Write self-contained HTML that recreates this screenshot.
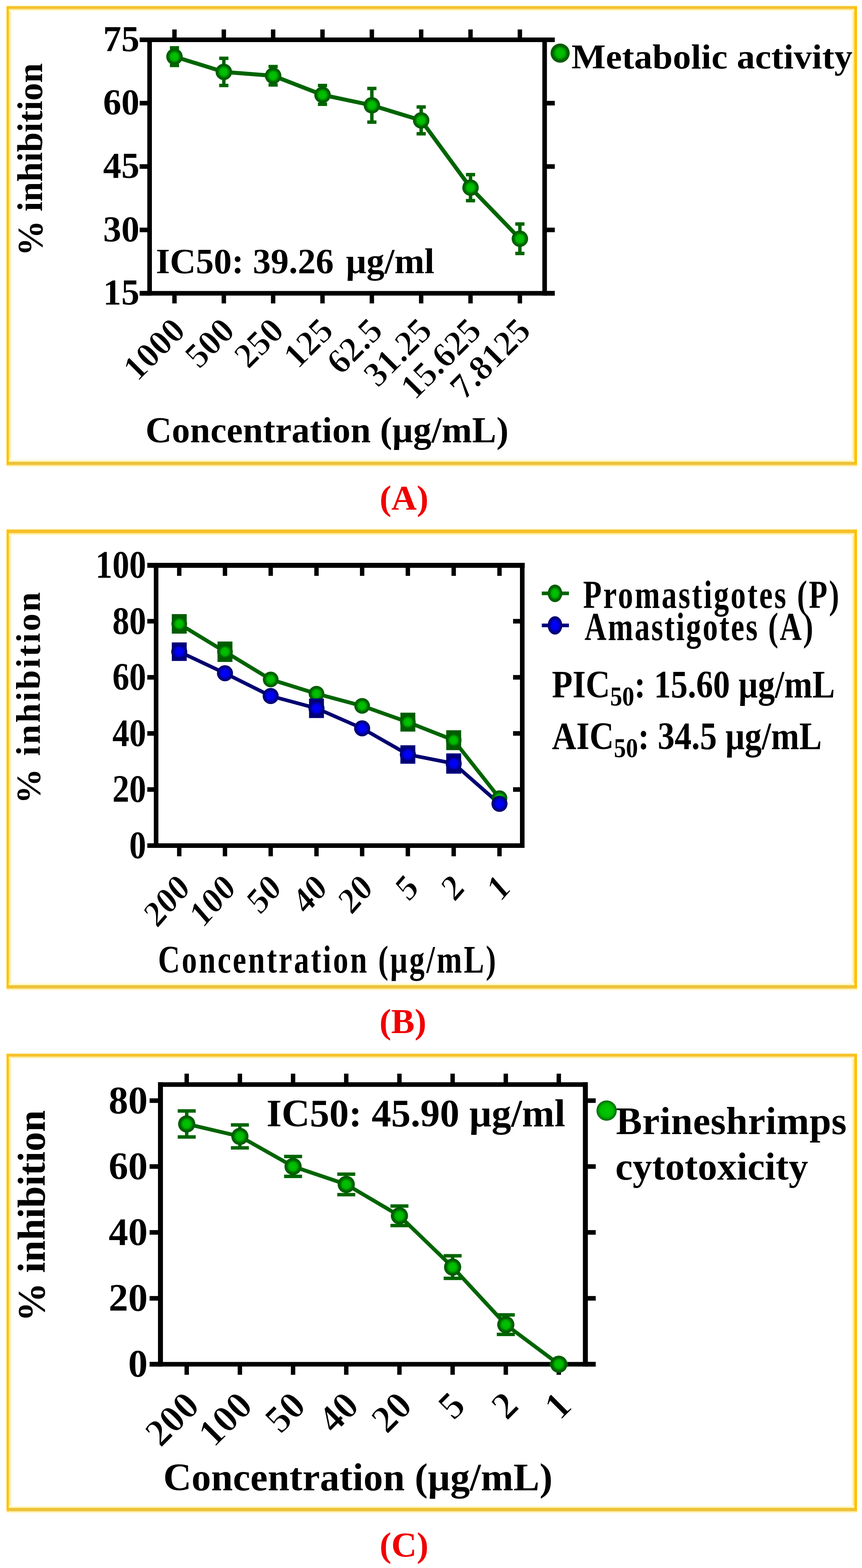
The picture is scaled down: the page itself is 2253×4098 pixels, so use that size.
<!DOCTYPE html>
<html><head><meta charset="utf-8"><title>Figure</title>
<style>
html,body{margin:0;padding:0;background:#fff;}
body{width:2253px;height:4098px;overflow:hidden;}
svg{display:block;}
text{font-family:'Liberation Serif',serif;font-weight:bold;}
</style></head>
<body>
<svg width="2253" height="4098" viewBox="0 0 2253 4098">
<defs>
<radialGradient id="gg"><stop offset="0" stop-color="#00c400"/><stop offset="0.45" stop-color="#00b800"/><stop offset="0.62" stop-color="#008a00"/><stop offset="0.75" stop-color="#006400"/><stop offset="0.93" stop-color="#005a00"/><stop offset="1" stop-color="#005c00"/></radialGradient>
<radialGradient id="gl"><stop offset="0" stop-color="#00c800"/><stop offset="0.6" stop-color="#00bb00"/><stop offset="0.8" stop-color="#009800"/><stop offset="0.92" stop-color="#007000"/><stop offset="1" stop-color="#006a10"/></radialGradient>
<radialGradient id="gb"><stop offset="0" stop-color="#0000ff"/><stop offset="0.45" stop-color="#0000f0"/><stop offset="0.65" stop-color="#0000b0"/><stop offset="0.8" stop-color="#000080"/><stop offset="0.93" stop-color="#00006e"/><stop offset="1" stop-color="#000070"/></radialGradient>
</defs>
<rect width="2253" height="4098" fill="#fff"/>
<rect x="23" y="16" width="4" height="1199" fill="#fde79a"/>
<rect x="27" y="16" width="4" height="1199" fill="#fffad8"/>
<rect x="2229" y="16" width="4" height="1199" fill="#fde79a"/>
<rect x="2225" y="16" width="4" height="1199" fill="#fffad8"/>
<rect x="17" y="23" width="2223" height="3" fill="#fee58e"/>
<rect x="17" y="26" width="2223" height="3" fill="#fffad6"/>
<rect x="17" y="13" width="2223" height="3" fill="#fffbdc"/>
<rect x="17" y="1204" width="2223" height="3" fill="#fff3b0"/>
<rect x="17" y="1201" width="2223" height="3" fill="#fffbe0"/>
<rect x="17" y="1215" width="2223" height="3" fill="#fee590"/>
<rect x="17" y="1218" width="2223" height="3" fill="#fffbdc"/>
<rect x="17" y="16" width="2223" height="7" fill="#f7c12c"/>
<rect x="17" y="1207" width="2223" height="8" fill="#ebc23a"/>
<rect x="17" y="16" width="6" height="1199" fill="#fec200"/>
<rect x="2233" y="16" width="7" height="1199" fill="#fec000"/>
<rect x="23" y="1384" width="4" height="1199" fill="#fde79a"/>
<rect x="27" y="1384" width="4" height="1199" fill="#fffad8"/>
<rect x="2229" y="1384" width="4" height="1199" fill="#fde79a"/>
<rect x="2225" y="1384" width="4" height="1199" fill="#fffad8"/>
<rect x="17" y="1393" width="2223" height="3" fill="#fee58e"/>
<rect x="17" y="1396" width="2223" height="3" fill="#fffad6"/>
<rect x="17" y="1381" width="2223" height="3" fill="#fffbdc"/>
<rect x="17" y="2572" width="2223" height="3" fill="#fff3b0"/>
<rect x="17" y="2569" width="2223" height="3" fill="#fffbe0"/>
<rect x="17" y="2583" width="2223" height="3" fill="#fee590"/>
<rect x="17" y="2586" width="2223" height="3" fill="#fffbdc"/>
<rect x="17" y="1384" width="2223" height="9" fill="#f7c12c"/>
<rect x="17" y="2575" width="2223" height="8" fill="#ebc23a"/>
<rect x="17" y="1384" width="6" height="1199" fill="#fec200"/>
<rect x="2233" y="1384" width="7" height="1199" fill="#fec000"/>
<rect x="23" y="2754" width="4" height="1195" fill="#fde79a"/>
<rect x="27" y="2754" width="4" height="1195" fill="#fffad8"/>
<rect x="2229" y="2754" width="4" height="1195" fill="#fde79a"/>
<rect x="2225" y="2754" width="4" height="1195" fill="#fffad8"/>
<rect x="17" y="2761" width="2223" height="3" fill="#fee58e"/>
<rect x="17" y="2764" width="2223" height="3" fill="#fffad6"/>
<rect x="17" y="2751" width="2223" height="3" fill="#fffbdc"/>
<rect x="17" y="3938" width="2223" height="3" fill="#fff3b0"/>
<rect x="17" y="3935" width="2223" height="3" fill="#fffbe0"/>
<rect x="17" y="3949" width="2223" height="3" fill="#fee590"/>
<rect x="17" y="3952" width="2223" height="3" fill="#fffbdc"/>
<rect x="17" y="2754" width="2223" height="7" fill="#f7c12c"/>
<rect x="17" y="3941" width="2223" height="8" fill="#ebc23a"/>
<rect x="17" y="2754" width="6" height="1195" fill="#fec200"/>
<rect x="2233" y="2754" width="7" height="1195" fill="#fec000"/>
<text transform="translate(1056.0,1332.0)" font-size="92" text-anchor="middle" fill="#f00000" >(A)</text>
<text transform="translate(1053.0,2700.0)" font-size="92" text-anchor="middle" fill="#f00000" >(B)</text>
<text transform="translate(1056.0,4068.0)" font-size="92" text-anchor="middle" fill="#f00000" >(C)</text>
<line x1="365.0" y1="104.0" x2="1450.0" y2="104.0" stroke="#000" stroke-width="12" stroke-linecap="butt"/>
<line x1="365.0" y1="766.5" x2="1450.0" y2="766.5" stroke="#000" stroke-width="12" stroke-linecap="butt"/>
<line x1="391.0" y1="98.0" x2="391.0" y2="772.5" stroke="#000" stroke-width="12" stroke-linecap="butt"/>
<line x1="1423.5" y1="98.0" x2="1423.5" y2="772.5" stroke="#000" stroke-width="12" stroke-linecap="butt"/>
<line x1="365.0" y1="104.0" x2="391.0" y2="104.0" stroke="#000" stroke-width="12" stroke-linecap="butt"/>
<line x1="1423.5" y1="104.0" x2="1450.0" y2="104.0" stroke="#000" stroke-width="12" stroke-linecap="butt"/>
<text transform="translate(364.5,133.6)" font-size="95" text-anchor="end" fill="#000" >75</text>
<line x1="365.0" y1="269.6" x2="391.0" y2="269.6" stroke="#000" stroke-width="12" stroke-linecap="butt"/>
<line x1="1423.5" y1="269.6" x2="1450.0" y2="269.6" stroke="#000" stroke-width="12" stroke-linecap="butt"/>
<text transform="translate(364.5,299.2)" font-size="95" text-anchor="end" fill="#000" >60</text>
<line x1="365.0" y1="435.2" x2="391.0" y2="435.2" stroke="#000" stroke-width="12" stroke-linecap="butt"/>
<line x1="1423.5" y1="435.2" x2="1450.0" y2="435.2" stroke="#000" stroke-width="12" stroke-linecap="butt"/>
<text transform="translate(364.5,464.9)" font-size="95" text-anchor="end" fill="#000" >45</text>
<line x1="365.0" y1="600.9" x2="391.0" y2="600.9" stroke="#000" stroke-width="12" stroke-linecap="butt"/>
<line x1="1423.5" y1="600.9" x2="1450.0" y2="600.9" stroke="#000" stroke-width="12" stroke-linecap="butt"/>
<text transform="translate(364.5,630.5)" font-size="95" text-anchor="end" fill="#000" >30</text>
<line x1="365.0" y1="766.5" x2="391.0" y2="766.5" stroke="#000" stroke-width="12" stroke-linecap="butt"/>
<line x1="1423.5" y1="766.5" x2="1450.0" y2="766.5" stroke="#000" stroke-width="12" stroke-linecap="butt"/>
<text transform="translate(364.5,796.1)" font-size="95" text-anchor="end" fill="#000" >15</text>
<line x1="456.0" y1="77.0" x2="456.0" y2="104.0" stroke="#000" stroke-width="11.5" stroke-linecap="butt"/>
<line x1="456.0" y1="766.5" x2="456.0" y2="793.0" stroke="#000" stroke-width="11.5" stroke-linecap="butt"/>
<line x1="585.0" y1="77.0" x2="585.0" y2="104.0" stroke="#000" stroke-width="11.5" stroke-linecap="butt"/>
<line x1="585.0" y1="766.5" x2="585.0" y2="793.0" stroke="#000" stroke-width="11.5" stroke-linecap="butt"/>
<line x1="713.9" y1="77.0" x2="713.9" y2="104.0" stroke="#000" stroke-width="11.5" stroke-linecap="butt"/>
<line x1="713.9" y1="766.5" x2="713.9" y2="793.0" stroke="#000" stroke-width="11.5" stroke-linecap="butt"/>
<line x1="842.9" y1="77.0" x2="842.9" y2="104.0" stroke="#000" stroke-width="11.5" stroke-linecap="butt"/>
<line x1="842.9" y1="766.5" x2="842.9" y2="793.0" stroke="#000" stroke-width="11.5" stroke-linecap="butt"/>
<line x1="971.9" y1="77.0" x2="971.9" y2="104.0" stroke="#000" stroke-width="11.5" stroke-linecap="butt"/>
<line x1="971.9" y1="766.5" x2="971.9" y2="793.0" stroke="#000" stroke-width="11.5" stroke-linecap="butt"/>
<line x1="1100.8" y1="77.0" x2="1100.8" y2="104.0" stroke="#000" stroke-width="11.5" stroke-linecap="butt"/>
<line x1="1100.8" y1="766.5" x2="1100.8" y2="793.0" stroke="#000" stroke-width="11.5" stroke-linecap="butt"/>
<line x1="1229.8" y1="77.0" x2="1229.8" y2="104.0" stroke="#000" stroke-width="11.5" stroke-linecap="butt"/>
<line x1="1229.8" y1="766.5" x2="1229.8" y2="793.0" stroke="#000" stroke-width="11.5" stroke-linecap="butt"/>
<line x1="1358.8" y1="77.0" x2="1358.8" y2="104.0" stroke="#000" stroke-width="11.5" stroke-linecap="butt"/>
<line x1="1358.8" y1="766.5" x2="1358.8" y2="793.0" stroke="#000" stroke-width="11.5" stroke-linecap="butt"/>
<polyline points="456.0,148.0 585.0,187.9 713.9,198.0 842.9,248.0 971.9,275.2 1100.8,314.6 1229.8,490.4 1358.8,623.9" fill="none" stroke="#006400" stroke-width="10.5" stroke-linejoin="round"/>
<line x1="456.0" y1="125.0" x2="456.0" y2="171.0" stroke="#006400" stroke-width="9" stroke-linecap="butt"/>
<line x1="444.0" y1="125.0" x2="468.0" y2="125.0" stroke="#006400" stroke-width="9" stroke-linecap="butt"/>
<line x1="444.0" y1="171.0" x2="468.0" y2="171.0" stroke="#006400" stroke-width="9" stroke-linecap="butt"/>
<line x1="585.0" y1="152.4" x2="585.0" y2="223.4" stroke="#006400" stroke-width="9" stroke-linecap="butt"/>
<line x1="573.0" y1="152.4" x2="597.0" y2="152.4" stroke="#006400" stroke-width="9" stroke-linecap="butt"/>
<line x1="573.0" y1="223.4" x2="597.0" y2="223.4" stroke="#006400" stroke-width="9" stroke-linecap="butt"/>
<line x1="713.9" y1="174.0" x2="713.9" y2="222.0" stroke="#006400" stroke-width="9" stroke-linecap="butt"/>
<line x1="701.9" y1="174.0" x2="725.9" y2="174.0" stroke="#006400" stroke-width="9" stroke-linecap="butt"/>
<line x1="701.9" y1="222.0" x2="725.9" y2="222.0" stroke="#006400" stroke-width="9" stroke-linecap="butt"/>
<line x1="842.9" y1="223.5" x2="842.9" y2="272.5" stroke="#006400" stroke-width="9" stroke-linecap="butt"/>
<line x1="830.9" y1="223.5" x2="854.9" y2="223.5" stroke="#006400" stroke-width="9" stroke-linecap="butt"/>
<line x1="830.9" y1="272.5" x2="854.9" y2="272.5" stroke="#006400" stroke-width="9" stroke-linecap="butt"/>
<line x1="971.9" y1="231.2" x2="971.9" y2="319.2" stroke="#006400" stroke-width="9" stroke-linecap="butt"/>
<line x1="959.9" y1="231.2" x2="983.9" y2="231.2" stroke="#006400" stroke-width="9" stroke-linecap="butt"/>
<line x1="959.9" y1="319.2" x2="983.9" y2="319.2" stroke="#006400" stroke-width="9" stroke-linecap="butt"/>
<line x1="1100.8" y1="279.6" x2="1100.8" y2="349.6" stroke="#006400" stroke-width="9" stroke-linecap="butt"/>
<line x1="1088.8" y1="279.6" x2="1112.8" y2="279.6" stroke="#006400" stroke-width="9" stroke-linecap="butt"/>
<line x1="1088.8" y1="349.6" x2="1112.8" y2="349.6" stroke="#006400" stroke-width="9" stroke-linecap="butt"/>
<line x1="1229.8" y1="456.4" x2="1229.8" y2="524.4" stroke="#006400" stroke-width="9" stroke-linecap="butt"/>
<line x1="1217.8" y1="456.4" x2="1241.8" y2="456.4" stroke="#006400" stroke-width="9" stroke-linecap="butt"/>
<line x1="1217.8" y1="524.4" x2="1241.8" y2="524.4" stroke="#006400" stroke-width="9" stroke-linecap="butt"/>
<line x1="1358.8" y1="585.4" x2="1358.8" y2="662.4" stroke="#006400" stroke-width="9" stroke-linecap="butt"/>
<line x1="1346.8" y1="585.4" x2="1370.8" y2="585.4" stroke="#006400" stroke-width="9" stroke-linecap="butt"/>
<line x1="1346.8" y1="662.4" x2="1370.8" y2="662.4" stroke="#006400" stroke-width="9" stroke-linecap="butt"/>
<circle cx="456.0" cy="148.0" r="21.5" fill="url(#gg)"/>
<circle cx="585.0" cy="187.9" r="21.5" fill="url(#gg)"/>
<circle cx="713.9" cy="198.0" r="21.5" fill="url(#gg)"/>
<circle cx="842.9" cy="248.0" r="21.5" fill="url(#gg)"/>
<circle cx="971.9" cy="275.2" r="21.5" fill="url(#gg)"/>
<circle cx="1100.8" cy="314.6" r="21.5" fill="url(#gg)"/>
<circle cx="1229.8" cy="490.4" r="21.5" fill="url(#gg)"/>
<circle cx="1358.8" cy="623.9" r="21.5" fill="url(#gg)"/>
<text transform="translate(489.0,869.0) rotate(-45)" font-size="92" text-anchor="end" fill="#000" stroke="#fff" stroke-width="1.6">1000</text>
<text transform="translate(618.0,869.0) rotate(-45)" font-size="92" text-anchor="end" fill="#000" stroke="#fff" stroke-width="1.6">500</text>
<text transform="translate(746.9,869.0) rotate(-45)" font-size="92" text-anchor="end" fill="#000" stroke="#fff" stroke-width="1.6">250</text>
<text transform="translate(875.9,869.0) rotate(-45)" font-size="92" text-anchor="end" fill="#000" stroke="#fff" stroke-width="1.6">125</text>
<text transform="translate(1004.9,869.0) rotate(-45)" font-size="92" text-anchor="end" fill="#000" stroke="#fff" stroke-width="1.6">62.5</text>
<text transform="translate(1133.8,869.0) rotate(-45)" font-size="92" text-anchor="end" fill="#000" stroke="#fff" stroke-width="1.6">31.25</text>
<text transform="translate(1262.8,869.0) rotate(-45)" font-size="92" text-anchor="end" fill="#000" stroke="#fff" stroke-width="1.6">15.625</text>
<text transform="translate(1391.8,869.0) rotate(-45)" font-size="92" text-anchor="end" fill="#000" stroke="#fff" stroke-width="1.6">7.8125</text>
<text transform="translate(407.4,714.0)" font-size="94" text-anchor="start" fill="#000" >IC50: 39.26 <tspan dx="8">µg/ml</tspan></text>
<circle cx="1464.0" cy="138.8" r="25.0" fill="url(#gg)"/>
<text transform="translate(1493.4,179.4) scale(1.0,0.96)" font-size="95" text-anchor="start" fill="#000" letter-spacing="0.25">Metabolic activity</text>
<text transform="translate(380.2,1155.8)" font-size="95" text-anchor="start" fill="#000" letter-spacing="0.25">Concentration (µg/mL)</text>
<text transform="translate(110.0,417.0) rotate(-90)" font-size="93" text-anchor="middle" fill="#000" >% inhibition</text>
<line x1="385.0" y1="1477.5" x2="1371.5" y2="1477.5" stroke="#000" stroke-width="13" stroke-linecap="butt"/>
<line x1="385.0" y1="2210.0" x2="1371.0" y2="2210.0" stroke="#000" stroke-width="12" stroke-linecap="butt"/>
<line x1="408.0" y1="1471.0" x2="408.0" y2="2216.0" stroke="#000" stroke-width="12" stroke-linecap="butt"/>
<line x1="1365.0" y1="1471.0" x2="1365.0" y2="2216.0" stroke="#000" stroke-width="12" stroke-linecap="butt"/>
<line x1="385.0" y1="1477.0" x2="408.0" y2="1477.0" stroke="#000" stroke-width="12" stroke-linecap="butt"/>
<line x1="1341.0" y1="1477.0" x2="1365.0" y2="1477.0" stroke="#000" stroke-width="12" stroke-linecap="butt"/>
<text transform="translate(382.0,1510.0) scale(0.875,1.0)" font-size="101" text-anchor="end" fill="#000" >100</text>
<line x1="385.0" y1="1623.6" x2="408.0" y2="1623.6" stroke="#000" stroke-width="12" stroke-linecap="butt"/>
<line x1="1341.0" y1="1623.6" x2="1365.0" y2="1623.6" stroke="#000" stroke-width="12" stroke-linecap="butt"/>
<text transform="translate(382.0,1656.6) scale(0.875,1.0)" font-size="101" text-anchor="end" fill="#000" >80</text>
<line x1="385.0" y1="1770.2" x2="408.0" y2="1770.2" stroke="#000" stroke-width="12" stroke-linecap="butt"/>
<line x1="1341.0" y1="1770.2" x2="1365.0" y2="1770.2" stroke="#000" stroke-width="12" stroke-linecap="butt"/>
<text transform="translate(382.0,1803.2) scale(0.875,1.0)" font-size="101" text-anchor="end" fill="#000" >60</text>
<line x1="385.0" y1="1916.8" x2="408.0" y2="1916.8" stroke="#000" stroke-width="12" stroke-linecap="butt"/>
<line x1="1341.0" y1="1916.8" x2="1365.0" y2="1916.8" stroke="#000" stroke-width="12" stroke-linecap="butt"/>
<text transform="translate(382.0,1949.8) scale(0.875,1.0)" font-size="101" text-anchor="end" fill="#000" >40</text>
<line x1="385.0" y1="2063.4" x2="408.0" y2="2063.4" stroke="#000" stroke-width="12" stroke-linecap="butt"/>
<line x1="1341.0" y1="2063.4" x2="1365.0" y2="2063.4" stroke="#000" stroke-width="12" stroke-linecap="butt"/>
<text transform="translate(382.0,2096.4) scale(0.875,1.0)" font-size="101" text-anchor="end" fill="#000" >20</text>
<line x1="385.0" y1="2210.0" x2="408.0" y2="2210.0" stroke="#000" stroke-width="12" stroke-linecap="butt"/>
<line x1="1341.0" y1="2210.0" x2="1365.0" y2="2210.0" stroke="#000" stroke-width="12" stroke-linecap="butt"/>
<text transform="translate(382.0,2243.0) scale(0.875,1.0)" font-size="101" text-anchor="end" fill="#000" >0</text>
<line x1="468.5" y1="1477.0" x2="468.5" y2="1505.0" stroke="#000" stroke-width="11.5" stroke-linecap="butt"/>
<line x1="468.5" y1="2210.0" x2="468.5" y2="2238.0" stroke="#000" stroke-width="11.5" stroke-linecap="butt"/>
<line x1="588.0" y1="1477.0" x2="588.0" y2="1505.0" stroke="#000" stroke-width="11.5" stroke-linecap="butt"/>
<line x1="588.0" y1="2210.0" x2="588.0" y2="2238.0" stroke="#000" stroke-width="11.5" stroke-linecap="butt"/>
<line x1="707.5" y1="1477.0" x2="707.5" y2="1505.0" stroke="#000" stroke-width="11.5" stroke-linecap="butt"/>
<line x1="707.5" y1="2210.0" x2="707.5" y2="2238.0" stroke="#000" stroke-width="11.5" stroke-linecap="butt"/>
<line x1="827.2" y1="1477.0" x2="827.2" y2="1505.0" stroke="#000" stroke-width="11.5" stroke-linecap="butt"/>
<line x1="827.2" y1="2210.0" x2="827.2" y2="2238.0" stroke="#000" stroke-width="11.5" stroke-linecap="butt"/>
<line x1="946.5" y1="1477.0" x2="946.5" y2="1505.0" stroke="#000" stroke-width="11.5" stroke-linecap="butt"/>
<line x1="946.5" y1="2210.0" x2="946.5" y2="2238.0" stroke="#000" stroke-width="11.5" stroke-linecap="butt"/>
<line x1="1066.0" y1="1477.0" x2="1066.0" y2="1505.0" stroke="#000" stroke-width="11.5" stroke-linecap="butt"/>
<line x1="1066.0" y1="2210.0" x2="1066.0" y2="2238.0" stroke="#000" stroke-width="11.5" stroke-linecap="butt"/>
<line x1="1185.8" y1="1477.0" x2="1185.8" y2="1505.0" stroke="#000" stroke-width="11.5" stroke-linecap="butt"/>
<line x1="1185.8" y1="2210.0" x2="1185.8" y2="2238.0" stroke="#000" stroke-width="11.5" stroke-linecap="butt"/>
<line x1="1305.5" y1="1477.0" x2="1305.5" y2="1505.0" stroke="#000" stroke-width="11.5" stroke-linecap="butt"/>
<line x1="1305.5" y1="2210.0" x2="1305.5" y2="2238.0" stroke="#000" stroke-width="11.5" stroke-linecap="butt"/>
<polyline points="468.5,1630.5 588.0,1703.3 707.5,1775.8 827.2,1813.0 946.5,1844.8 1066.0,1887.3 1185.8,1934.5 1305.5,2086.0" fill="none" stroke="#006400" stroke-width="10" stroke-linejoin="round"/>
<polyline points="468.5,1703.2 588.0,1759.5 707.5,1819.0 827.2,1851.2 946.5,1903.5 1066.0,1971.9 1185.8,1995.5 1305.5,2100.8" fill="none" stroke="#000070" stroke-width="9.5" stroke-linejoin="round"/>
<rect x="449.0" y="1605.0" width="39" height="51.0" fill="#005c00"/>
<rect x="568.5" y="1676.6" width="39" height="53.4" fill="#005c00"/>
<rect x="1046.5" y="1862.6" width="39" height="49.4" fill="#005c00"/>
<rect x="1166.3" y="1908.5" width="39" height="52.0" fill="#005c00"/>
<circle cx="468.5" cy="1630.5" r="20.5" fill="url(#gg)"/>
<circle cx="588.0" cy="1703.3" r="20.5" fill="url(#gg)"/>
<circle cx="707.5" cy="1775.8" r="20.5" fill="url(#gg)"/>
<circle cx="827.2" cy="1813.0" r="20.5" fill="url(#gg)"/>
<circle cx="946.5" cy="1844.8" r="20.5" fill="url(#gg)"/>
<circle cx="1066.0" cy="1887.3" r="20.5" fill="url(#gg)"/>
<circle cx="1185.8" cy="1934.5" r="20.5" fill="url(#gg)"/>
<circle cx="1305.5" cy="2086.0" r="20.5" fill="url(#gg)"/>
<rect x="449.0" y="1679.0" width="39" height="48.4" fill="#00007a"/>
<rect x="807.7" y="1825.8" width="39" height="50.8" fill="#00007a"/>
<rect x="1046.5" y="1947.8" width="39" height="48.2" fill="#00007a"/>
<rect x="1166.3" y="1969.0" width="39" height="53.0" fill="#00007a"/>
<circle cx="468.5" cy="1703.2" r="21.0" fill="url(#gb)"/>
<circle cx="588.0" cy="1759.5" r="21.0" fill="url(#gb)"/>
<circle cx="707.5" cy="1819.0" r="21.0" fill="url(#gb)"/>
<circle cx="827.2" cy="1851.2" r="21.0" fill="url(#gb)"/>
<circle cx="946.5" cy="1903.5" r="21.0" fill="url(#gb)"/>
<circle cx="1066.0" cy="1971.9" r="21.0" fill="url(#gb)"/>
<circle cx="1185.8" cy="1995.5" r="21.0" fill="url(#gb)"/>
<circle cx="1305.5" cy="2100.8" r="21.0" fill="url(#gb)"/>
<text transform="translate(500.5,2325) scale(0.875,1) rotate(-45)" font-size="97" text-anchor="end" stroke="#fff" stroke-width="1.6">200</text>
<text transform="translate(620.0,2325) scale(0.875,1) rotate(-45)" font-size="97" text-anchor="end" stroke="#fff" stroke-width="1.6">100</text>
<text transform="translate(739.5,2325) scale(0.875,1) rotate(-45)" font-size="97" text-anchor="end" stroke="#fff" stroke-width="1.6">50</text>
<text transform="translate(859.2,2325) scale(0.875,1) rotate(-45)" font-size="97" text-anchor="end" stroke="#fff" stroke-width="1.6">40</text>
<text transform="translate(978.5,2325) scale(0.875,1) rotate(-45)" font-size="97" text-anchor="end" stroke="#fff" stroke-width="1.6">20</text>
<text transform="translate(1098.0,2325) scale(0.875,1) rotate(-45)" font-size="97" text-anchor="end" stroke="#fff" stroke-width="1.6">5</text>
<text transform="translate(1217.8,2325) scale(0.875,1) rotate(-45)" font-size="97" text-anchor="end" stroke="#fff" stroke-width="1.6">2</text>
<text transform="translate(1337.5,2325) scale(0.875,1) rotate(-45)" font-size="97" text-anchor="end" stroke="#fff" stroke-width="1.6">1</text>
<text transform="translate(413.0,2542.0) scale(0.7875,1.0)" font-size="101" text-anchor="start" fill="#000" textLength="1121.7" lengthAdjust="spacing">Concentration (µg/mL)</text>
<text transform="translate(104.4,1824) scale(0.875,1) rotate(-90) scale(0.9,1)" font-size="102" text-anchor="middle" textLength="614.3" lengthAdjust="spacing">% inhibition</text>
<line x1="1416.0" y1="1550.8" x2="1487.0" y2="1550.8" stroke="#006400" stroke-width="9.5" stroke-linecap="butt"/>
<ellipse cx="1450.6" cy="1550.8" rx="19.0" ry="23.0" fill="url(#gg)"/>
<line x1="1416.0" y1="1634.5" x2="1487.0" y2="1634.5" stroke="#000080" stroke-width="9.5" stroke-linecap="butt"/>
<ellipse cx="1450.6" cy="1634.5" rx="19.0" ry="24.0" fill="url(#gb)"/>
<text transform="translate(1524.0,1589.0) scale(0.763875,1.0)" font-size="104" text-anchor="start" fill="#000" textLength="876.0" lengthAdjust="spacing">Promastigotes (P)</text>
<text transform="translate(1527.7,1673.0) scale(0.763875,1.0)" font-size="104" text-anchor="start" fill="#000" textLength="782.6" lengthAdjust="spacing">Amastigotes (A)</text>
<text transform="translate(1442.5,1822.6) scale(0.875,1.0)" font-size="101" text-anchor="start" fill="#000" >PIC<tspan font-size="72" dy="21">50</tspan><tspan dy="-21">: 15.60 µg/mL</tspan></text>
<text transform="translate(1442.5,1957.7) scale(0.875,1.0)" font-size="101" text-anchor="start" fill="#000" >AIC<tspan font-size="72" dy="21">50</tspan><tspan dy="-21">: 34.5 µg/mL</tspan></text>
<line x1="413.4" y1="2834.5" x2="1536.0" y2="2834.5" stroke="#000" stroke-width="12" stroke-linecap="butt"/>
<line x1="391.0" y1="3565.4" x2="1557.0" y2="3565.4" stroke="#000" stroke-width="12" stroke-linecap="butt"/>
<line x1="419.4" y1="2828.5" x2="419.4" y2="3571.4" stroke="#000" stroke-width="13" stroke-linecap="butt"/>
<line x1="1530.0" y1="2828.5" x2="1530.0" y2="3571.4" stroke="#000" stroke-width="13" stroke-linecap="butt"/>
<line x1="391.0" y1="2876.5" x2="419.4" y2="2876.5" stroke="#000" stroke-width="12" stroke-linecap="butt"/>
<line x1="1530.0" y1="2876.5" x2="1557.0" y2="2876.5" stroke="#000" stroke-width="12" stroke-linecap="butt"/>
<text transform="translate(386.0,2909.5)" font-size="102" text-anchor="end" fill="#000" >80</text>
<line x1="391.0" y1="3048.7" x2="419.4" y2="3048.7" stroke="#000" stroke-width="12" stroke-linecap="butt"/>
<line x1="1530.0" y1="3048.7" x2="1557.0" y2="3048.7" stroke="#000" stroke-width="12" stroke-linecap="butt"/>
<text transform="translate(386.0,3081.7)" font-size="102" text-anchor="end" fill="#000" >60</text>
<line x1="391.0" y1="3220.9" x2="419.4" y2="3220.9" stroke="#000" stroke-width="12" stroke-linecap="butt"/>
<line x1="1530.0" y1="3220.9" x2="1557.0" y2="3220.9" stroke="#000" stroke-width="12" stroke-linecap="butt"/>
<text transform="translate(386.0,3253.9)" font-size="102" text-anchor="end" fill="#000" >40</text>
<line x1="391.0" y1="3393.2" x2="419.4" y2="3393.2" stroke="#000" stroke-width="12" stroke-linecap="butt"/>
<line x1="1530.0" y1="3393.2" x2="1557.0" y2="3393.2" stroke="#000" stroke-width="12" stroke-linecap="butt"/>
<text transform="translate(386.0,3426.2)" font-size="102" text-anchor="end" fill="#000" >20</text>
<line x1="391.0" y1="3565.4" x2="419.4" y2="3565.4" stroke="#000" stroke-width="12" stroke-linecap="butt"/>
<line x1="1530.0" y1="3565.4" x2="1557.0" y2="3565.4" stroke="#000" stroke-width="12" stroke-linecap="butt"/>
<text transform="translate(386.0,3598.4)" font-size="102" text-anchor="end" fill="#000" >0</text>
<line x1="488.0" y1="2806.0" x2="488.0" y2="2834.5" stroke="#000" stroke-width="11.5" stroke-linecap="butt"/>
<line x1="488.0" y1="3565.4" x2="488.0" y2="3593.0" stroke="#000" stroke-width="11.5" stroke-linecap="butt"/>
<line x1="627.0" y1="2806.0" x2="627.0" y2="2834.5" stroke="#000" stroke-width="11.5" stroke-linecap="butt"/>
<line x1="627.0" y1="3565.4" x2="627.0" y2="3593.0" stroke="#000" stroke-width="11.5" stroke-linecap="butt"/>
<line x1="766.0" y1="2806.0" x2="766.0" y2="2834.5" stroke="#000" stroke-width="11.5" stroke-linecap="butt"/>
<line x1="766.0" y1="3565.4" x2="766.0" y2="3593.0" stroke="#000" stroke-width="11.5" stroke-linecap="butt"/>
<line x1="905.0" y1="2806.0" x2="905.0" y2="2834.5" stroke="#000" stroke-width="11.5" stroke-linecap="butt"/>
<line x1="905.0" y1="3565.4" x2="905.0" y2="3593.0" stroke="#000" stroke-width="11.5" stroke-linecap="butt"/>
<line x1="1044.0" y1="2806.0" x2="1044.0" y2="2834.5" stroke="#000" stroke-width="11.5" stroke-linecap="butt"/>
<line x1="1044.0" y1="3565.4" x2="1044.0" y2="3593.0" stroke="#000" stroke-width="11.5" stroke-linecap="butt"/>
<line x1="1183.0" y1="2806.0" x2="1183.0" y2="2834.5" stroke="#000" stroke-width="11.5" stroke-linecap="butt"/>
<line x1="1183.0" y1="3565.4" x2="1183.0" y2="3593.0" stroke="#000" stroke-width="11.5" stroke-linecap="butt"/>
<line x1="1322.0" y1="2806.0" x2="1322.0" y2="2834.5" stroke="#000" stroke-width="11.5" stroke-linecap="butt"/>
<line x1="1322.0" y1="3565.4" x2="1322.0" y2="3593.0" stroke="#000" stroke-width="11.5" stroke-linecap="butt"/>
<line x1="1460.5" y1="2806.0" x2="1460.5" y2="2834.5" stroke="#000" stroke-width="11.5" stroke-linecap="butt"/>
<line x1="1460.5" y1="3565.4" x2="1460.5" y2="3593.0" stroke="#000" stroke-width="11.5" stroke-linecap="butt"/>
<polyline points="488.0,2937.5 627.0,2970.0 766.0,3048.5 905.0,3095.5 1044.0,3177.5 1183.0,3311.6 1322.0,3462.0 1460.5,3565.5" fill="none" stroke="#006400" stroke-width="10" stroke-linejoin="round"/>
<line x1="488.0" y1="2903.5" x2="488.0" y2="2971.5" stroke="#006400" stroke-width="9" stroke-linecap="butt"/>
<line x1="464.5" y1="2903.5" x2="511.5" y2="2903.5" stroke="#006400" stroke-width="9" stroke-linecap="butt"/>
<line x1="464.5" y1="2971.5" x2="511.5" y2="2971.5" stroke="#006400" stroke-width="9" stroke-linecap="butt"/>
<line x1="627.0" y1="2940.0" x2="627.0" y2="3000.0" stroke="#006400" stroke-width="9" stroke-linecap="butt"/>
<line x1="603.5" y1="2940.0" x2="650.5" y2="2940.0" stroke="#006400" stroke-width="9" stroke-linecap="butt"/>
<line x1="603.5" y1="3000.0" x2="650.5" y2="3000.0" stroke="#006400" stroke-width="9" stroke-linecap="butt"/>
<line x1="766.0" y1="3022.5" x2="766.0" y2="3074.5" stroke="#006400" stroke-width="9" stroke-linecap="butt"/>
<line x1="742.5" y1="3022.5" x2="789.5" y2="3022.5" stroke="#006400" stroke-width="9" stroke-linecap="butt"/>
<line x1="742.5" y1="3074.5" x2="789.5" y2="3074.5" stroke="#006400" stroke-width="9" stroke-linecap="butt"/>
<line x1="905.0" y1="3068.8" x2="905.0" y2="3122.2" stroke="#006400" stroke-width="9" stroke-linecap="butt"/>
<line x1="881.5" y1="3068.8" x2="928.5" y2="3068.8" stroke="#006400" stroke-width="9" stroke-linecap="butt"/>
<line x1="881.5" y1="3122.2" x2="928.5" y2="3122.2" stroke="#006400" stroke-width="9" stroke-linecap="butt"/>
<line x1="1044.0" y1="3152.0" x2="1044.0" y2="3203.0" stroke="#006400" stroke-width="9" stroke-linecap="butt"/>
<line x1="1020.5" y1="3152.0" x2="1067.5" y2="3152.0" stroke="#006400" stroke-width="9" stroke-linecap="butt"/>
<line x1="1020.5" y1="3203.0" x2="1067.5" y2="3203.0" stroke="#006400" stroke-width="9" stroke-linecap="butt"/>
<line x1="1183.0" y1="3282.1" x2="1183.0" y2="3341.1" stroke="#006400" stroke-width="9" stroke-linecap="butt"/>
<line x1="1159.5" y1="3282.1" x2="1206.5" y2="3282.1" stroke="#006400" stroke-width="9" stroke-linecap="butt"/>
<line x1="1159.5" y1="3341.1" x2="1206.5" y2="3341.1" stroke="#006400" stroke-width="9" stroke-linecap="butt"/>
<line x1="1322.0" y1="3436.5" x2="1322.0" y2="3487.5" stroke="#006400" stroke-width="9" stroke-linecap="butt"/>
<line x1="1298.5" y1="3436.5" x2="1345.5" y2="3436.5" stroke="#006400" stroke-width="9" stroke-linecap="butt"/>
<line x1="1298.5" y1="3487.5" x2="1345.5" y2="3487.5" stroke="#006400" stroke-width="9" stroke-linecap="butt"/>
<line x1="1460.5" y1="3563.5" x2="1460.5" y2="3567.5" stroke="#006400" stroke-width="9" stroke-linecap="butt"/>
<line x1="1437.0" y1="3563.5" x2="1484.0" y2="3563.5" stroke="#006400" stroke-width="9" stroke-linecap="butt"/>
<line x1="1437.0" y1="3567.5" x2="1484.0" y2="3567.5" stroke="#006400" stroke-width="9" stroke-linecap="butt"/>
<circle cx="488.0" cy="2937.5" r="22.5" fill="url(#gg)"/>
<circle cx="627.0" cy="2970.0" r="22.5" fill="url(#gg)"/>
<circle cx="766.0" cy="3048.5" r="22.5" fill="url(#gg)"/>
<circle cx="905.0" cy="3095.5" r="22.5" fill="url(#gg)"/>
<circle cx="1044.0" cy="3177.5" r="22.5" fill="url(#gg)"/>
<circle cx="1183.0" cy="3311.6" r="22.5" fill="url(#gg)"/>
<circle cx="1322.0" cy="3462.0" r="22.5" fill="url(#gg)"/>
<circle cx="1460.5" cy="3565.5" r="22.5" fill="url(#gg)"/>
<text transform="translate(526.0,3679.0) rotate(-45)" font-size="100" text-anchor="end" fill="#000" stroke="#fff" stroke-width="1.6">200</text>
<text transform="translate(665.0,3679.0) rotate(-45)" font-size="100" text-anchor="end" fill="#000" stroke="#fff" stroke-width="1.6">100</text>
<text transform="translate(804.0,3679.0) rotate(-45)" font-size="100" text-anchor="end" fill="#000" stroke="#fff" stroke-width="1.6">50</text>
<text transform="translate(943.0,3679.0) rotate(-45)" font-size="100" text-anchor="end" fill="#000" stroke="#fff" stroke-width="1.6">40</text>
<text transform="translate(1082.0,3679.0) rotate(-45)" font-size="100" text-anchor="end" fill="#000" stroke="#fff" stroke-width="1.6">20</text>
<text transform="translate(1221.0,3679.0) rotate(-45)" font-size="100" text-anchor="end" fill="#000" stroke="#fff" stroke-width="1.6">5</text>
<text transform="translate(1360.0,3679.0) rotate(-45)" font-size="100" text-anchor="end" fill="#000" stroke="#fff" stroke-width="1.6">2</text>
<text transform="translate(1498.5,3679.0) rotate(-45)" font-size="100" text-anchor="end" fill="#000" stroke="#fff" stroke-width="1.6">1</text>
<text transform="translate(696.4,2944.3)" font-size="102" text-anchor="start" fill="#000" >IC50: 45.90 µg/ml</text>
<circle cx="1585.5" cy="2902.5" r="26.5" fill="url(#gl)"/>
<text transform="translate(1610.0,2963.6)" font-size="102" text-anchor="start" fill="#000" letter-spacing="0.7">Brineshrimps</text>
<text transform="translate(1608.2,3082.8)" font-size="102" text-anchor="start" fill="#000" >cytotoxicity</text>
<text transform="translate(426.7,3895.0)" font-size="102" text-anchor="start" fill="#000" letter-spacing="0.2">Concentration (µg/mL)</text>
<text transform="translate(117,3178) rotate(-90)" font-size="102" text-anchor="middle">% inhibition</text>
</svg>
</body></html>
